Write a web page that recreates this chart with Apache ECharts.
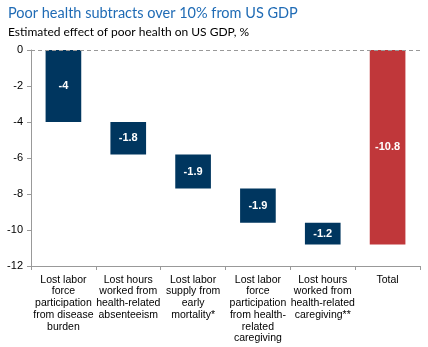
<!DOCTYPE html>
<html><head><meta charset="utf-8">
<script src="https://cdn.jsdelivr.net/npm/echarts@6/dist/echarts.min.js"></script>
<style>html,body{margin:0;padding:0;background:#fff}#c{width:428px;height:347px}</style>
</head><body><div id="c"></div>
<script>
const categories = [
  "Lost labor\nforce\nparticipation\nfrom disease\nburden",
  "Lost hours\nworked from\nhealth-related\nabsenteeism",
  "Lost labor\nsupply from\nearly\nmortality*",
  "Lost labor\nforce\nparticipation\nfrom health-\nrelated\ncaregiving",
  "Lost hours\nworked from\nhealth-related\ncaregiving**",
  "Total"
];
const effects = [-4, -1.8, -1.9, -1.9, -1.2];
const total = -10.8;
const yTicks = [0, -2, -4, -6, -8, -10, -12];

// waterfall bases from cumulative sums of effects
const bases = [];
let run = 0;
effects.forEach(v => { bases.push(run); run += v; });
bases.push(0);
const values = effects.concat([total]);

const chart = echarts.init(document.getElementById('c'));
chart.setOption({
  animation: false,
  title: [
    {text: 'Poor health subtracts over 10% from US GDP', left: 3, top: 1,
     textStyle: {fontFamily: 'Lato', fontSize: 14.5, fontWeight: 'normal', color: '#1F6BB5'}},
    {text: 'Estimated effect of poor health on US GDP, %', left: 3, top: 21,
     textStyle: {fontFamily: 'Lato', fontSize: 12, fontWeight: 'normal', color: '#000'}}
  ],
  grid: {left: 31, right: 8, top: 50, bottom: 81, containLabel: false},
  xAxis: {
    type: 'category', data: categories, position: 'bottom',
    axisLine: {onZero: false, lineStyle: {color: '#999'}},
    axisTick: {show: true, alignWithLabel: false, length: 4, lineStyle: {color: '#999'}},
    axisLabel: {interval: 0, fontFamily: 'Liberation Sans', fontSize: 10.5, color: '#000', lineHeight: 11.7, margin: 8}
  },
  yAxis: {
    type: 'value', min: -12, max: 0, interval: 2,
    axisLine: {show: true, lineStyle: {color: '#999'}},
    axisTick: {show: true, length: 4, lineStyle: {color: '#999'}},
    splitLine: {show: false},
    axisLabel: {fontFamily: 'Liberation Sans', fontSize: 11, color: '#000', margin: 8,
      formatter: v => yTicks.includes(v) ? String(v) : ''}
  },
  series: [
    {type: 'bar', stack: 'w', data: bases, barWidth: '55%',
     itemStyle: {color: 'rgba(0,0,0,0)'}, silent: true,
     markLine: {silent: true, symbol: 'none', label: {show: false},
       lineStyle: {color: '#999', type: [4, 3], width: 1}, data: [{yAxis: 0}]}},
    {type: 'bar', stack: 'w', barWidth: '55%',
     data: values.map((v, i) => ({value: v, itemStyle: {color: i === values.length - 1 ? '#C0373A' : '#00365F'}})),
     label: {show: true, position: 'inside', color: '#fff', fontFamily: 'Liberation Sans', fontSize: 11, fontWeight: 'bold',
       formatter: p => String(p.value)}}
  ]
});
</script></body></html>
